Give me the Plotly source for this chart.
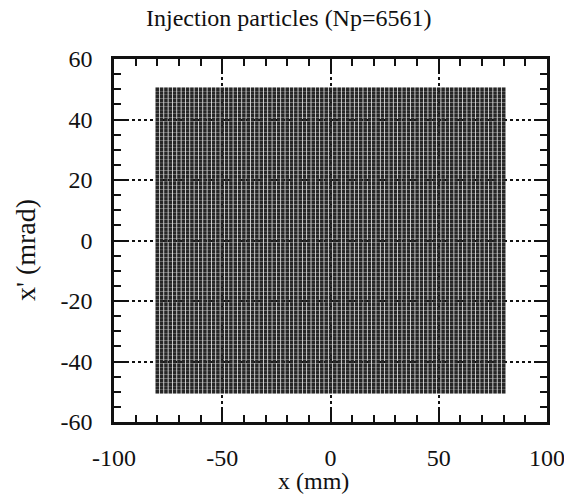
import plotly.graph_objects as go

# Injection particle grid: 81 x 81 = 6561 particles (Np=6561)
x_columns_mm = [
    -80, -78, -76, -74, -72, -70, -68, -66, -64, -62, -60, -58, -56, -54, -52, -50,
    -48, -46, -44, -42, -40, -38, -36, -34, -32, -30, -28, -26, -24, -22, -20, -18,
    -16, -14, -12, -10, -8, -6, -4, -2, 0, 2, 4, 6, 8, 10, 12, 14, 16, 18, 20, 22,
    24, 26, 28, 30, 32, 34, 36, 38, 40, 42, 44, 46, 48, 50, 52, 54, 56, 58, 60, 62,
    64, 66, 68, 70, 72, 74, 76, 78, 80,
]
xp_rows_mrad = [
    -50, -48.75, -47.5, -46.25, -45, -43.75, -42.5, -41.25, -40, -38.75, -37.5,
    -36.25, -35, -33.75, -32.5, -31.25, -30, -28.75, -27.5, -26.25, -25, -23.75,
    -22.5, -21.25, -20, -18.75, -17.5, -16.25, -15, -13.75, -12.5, -11.25, -10,
    -8.75, -7.5, -6.25, -5, -3.75, -2.5, -1.25, 0, 1.25, 2.5, 3.75, 5, 6.25, 7.5,
    8.75, 10, 11.25, 12.5, 13.75, 15, 16.25, 17.5, 18.75, 20, 21.25, 22.5, 23.75,
    25, 26.25, 27.5, 28.75, 30, 31.25, 32.5, 33.75, 35, 36.25, 37.5, 38.75, 40,
    41.25, 42.5, 43.75, 45, 46.25, 47.5, 48.75, 50,
]
x_tick_vals = [-100, -50, 0, 50, 100]
x_tick_text = ["-100", "-50", "0", "50", "100"]
y_tick_vals = [-60, -40, -20, 0, 20, 40, 60]
y_tick_text = ["-60", "-40", "-20", "0", "20", "40", "60"]

px, py = [], []
for yv in xp_rows_mrad:
    for xv in x_columns_mm:
        px.append(xv)
        py.append(yv)

FONT = "Liberation Serif"
ink = "#111111"

fig = go.Figure()
fig.add_trace(go.Scatter(
    x=px, y=py, mode="markers",
    marker=dict(symbol="square", size=3.6, color="#262626", line=dict(width=0)),
    hoverinfo="skip", showlegend=False,
))

axis_common = dict(
    showline=True, linecolor=ink, linewidth=2.5, mirror="allticks",
    ticks="inside", ticklen=12, tickwidth=2, tickcolor=ink,
    showgrid=True, gridcolor=ink, gridwidth=1.5, griddash="dot",
    zeroline=False, ticklabeloverflow="allow", automargin=False,
    tickfont=dict(family=FONT, size=24, color=ink),
)

fig.update_xaxes(
    range=[-100, 100], tickvals=x_tick_vals, ticktext=x_tick_text,
    ticklabelstandoff=12,
    minor=dict(dtick=10, tick0=0, ticks="inside", ticklen=7, tickwidth=2,
               tickcolor=ink, showgrid=False),
    **axis_common,
)
fig.update_yaxes(
    range=[-60, 60], tickvals=y_tick_vals, ticktext=y_tick_text,
    ticklabelstandoff=14,
    minor=dict(dtick=5, tick0=0, ticks="inside", ticklen=7, tickwidth=2,
               tickcolor=ink, showgrid=False),
    **axis_common,
)

fig.add_annotation(
    text="x (mm)", xref="paper", yref="paper", x=0.46, y=-0.162,
    xanchor="center", yanchor="middle", showarrow=False,
    font=dict(family=FONT, size=24, color=ink),
)
fig.add_annotation(
    text="x' (mrad)", xref="paper", yref="paper", x=-0.206, y=0.473,
    xanchor="center", yanchor="middle", showarrow=False, textangle=-90,
    font=dict(family=FONT, size=28, color=ink),
)

fig.update_layout(
    width=564, height=498,
    margin=dict(l=114, r=17, t=59, b=76, autoexpand=False),
    paper_bgcolor="white", plot_bgcolor="white",
    title=dict(text="Injection particles (Np=6561)", xref="container",
               x=0.512, y=1 - 18 / 498, xanchor="center", yanchor="middle",
               font=dict(family=FONT, size=24, color=ink)),
)

fig.write_html("out.html")
